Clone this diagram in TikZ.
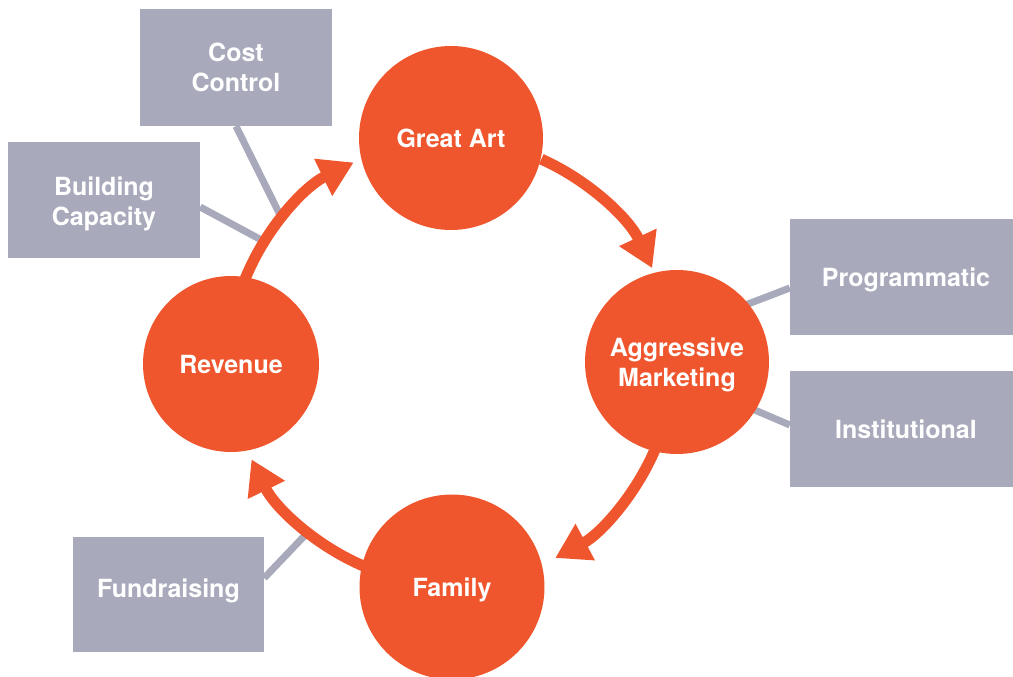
\documentclass[tikz,border=0pt]{standalone}
\usepackage{fontspec}
\setmainfont{TeX Gyre Heros}
\usetikzlibrary{arrows.meta,calc}
\definecolor{orng}{RGB}{240,86,45}
\definecolor{gry}{RGB}{168,170,188}
\begin{document}
\begin{tikzpicture}[x=1pt,y=-1pt,
  lbl/.style={text=white,align=center,font=\bfseries\fontsize{25}{30}\selectfont},
  hub/.style={lbl,circle,fill=orng,minimum size=#1,inner sep=0pt},
  tag/.style={lbl,rectangle,fill=gry,inner sep=0pt},
  link/.style={draw=gry,line width=7pt},
  flow/.style={draw=orng,line width=11pt,-{Triangle[length=34pt,width=39pt]}}]
\useasboundingbox (0,0) rectangle (1013,677);
\clip (0,0) rectangle (1013,677);
\coordinate (cyc) at (451,362);
% boxes
\node[tag,minimum width=192pt,minimum height=117pt] (cost) at (236,67.5) {Cost\\Control};
\node[tag,minimum width=192pt,minimum height=116pt,text height=51pt,text depth=0pt] (build) at (104,200) {Building\\Capacity};
\node[tag,minimum width=232pt,minimum height=116pt,text depth=0pt] (prog) at (906,277) {Programmatic};
\node[tag,minimum width=232pt,minimum height=116pt] (inst) at (906,429) {Institutional};
\node[tag,minimum width=191pt,minimum height=115pt,text depth=13pt] (fund) at (168.5,594.5) {Fundraising};
% link ends
\coordinate (costE) at (283,221);
\coordinate (buildE) at (267,243);
\coordinate (fundE) at (310,530);
\coordinate (progE) at (735,309);
\coordinate (instE) at (743,405);
\draw[link] (cost.south) -- (costE);
\draw[link] ($(build.east)+(0,7)$) -- (buildE);
\draw[link] ($(fund.east)+(0,-16.5)$) -- (fundE);
\draw[link] ($(prog.west)+(0,11)$) -- (progE);
\draw[link] ($(inst.west)+(0,-4)$) -- (instE);
% hubs
\node[hub=184pt] (art) at (451,138) {Great Art};
\node[hub=184pt,text depth=0pt] (mkt) at (677,362) {Aggressive\\Marketing};
\node[hub=176pt] (rev) at (231,364) {Revenue};
\node[hub=185pt,text depth=0pt] (fam) at (452,587) {Family};
% cycle arrows
\draw[flow] ($(cyc)+(-158:222)$) arc[start angle=-158,end angle=-116,radius=222];
\draw[flow] ($(cyc)+(-66:222)$) arc[start angle=-66,end angle=-25,radius=222];
\draw[flow] ($(cyc)+(23:222)$) arc[start angle=23,end angle=62,radius=222];
\draw[flow] ($(cyc)+(113:222)$) arc[start angle=113,end angle=154,radius=222];
\end{tikzpicture}
\end{document}
